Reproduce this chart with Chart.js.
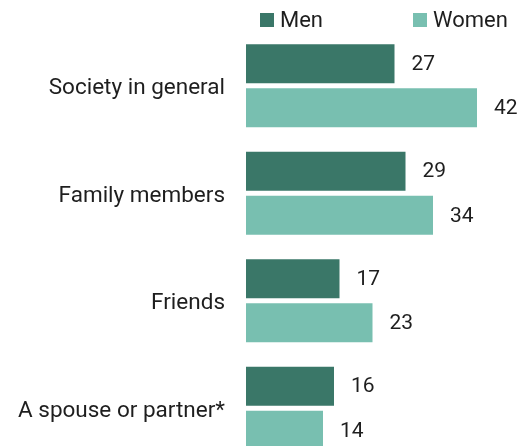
<!DOCTYPE html>
<html>
<head>
<meta charset="utf-8">
<script src="https://cdn.jsdelivr.net/npm/chart.js@4"></script>
<style>
  html, body { margin: 0; padding: 0; background: #fff; overflow: hidden; height: 446px; }
  #frame { position: relative; width: 523px; height: 446px; overflow: hidden; }
  canvas { display: block; position: absolute; left: 0; top: 0; }
</style>
</head>
<body>
<div id="frame"><canvas id="c" width="523" height="470"></canvas></div>
<script>
const categories = ["Society in general", "Family members", "Friends", "A spouse or partner*"];
const seriesNames = ["Men", "Women"];
const menValues = [27, 29, 17, 16];
const womenValues = [42, 34, 23, 14];
const seriesColors = ["#3a7768", "#78bfb0"];

const FONT = "Roboto, 'Liberation Sans', Arial, sans-serif";
const TEXT = "#1e1e1e";

// Numbers printed just past the end of each bar
const valueLabels = {
  id: "valueLabels",
  afterDatasetsDraw(chart) {
    const ctx = chart.ctx;
    ctx.save();
    ctx.font = "21px " + FONT;
    ctx.fillStyle = TEXT;
    ctx.textAlign = "left";
    ctx.textBaseline = "middle";
    chart.data.datasets.forEach((ds, i) => {
      chart.getDatasetMeta(i).data.forEach((bar, j) => {
        ctx.fillText(String(ds.data[j]), bar.x + 17, bar.y + 1);
      });
    });
    ctx.restore();
  }
};

// Legend row across the top: swatch + series name
const topLegend = {
  id: "topLegend",
  afterDraw(chart) {
    const ctx = chart.ctx;
    const starts = [260, 413];
    ctx.save();
    ctx.font = "22px " + FONT;
    ctx.textBaseline = "middle";
    ctx.textAlign = "left";
    chart.data.datasets.forEach((ds, i) => {
      const x = starts[i];
      ctx.fillStyle = ds.backgroundColor;
      ctx.fillRect(x, 13, 14, 14);
      ctx.fillStyle = TEXT;
      ctx.fillText(ds.label, x + 20, 21);
    });
    ctx.restore();
  }
};

new Chart(document.getElementById("c"), {
  type: "bar",
  data: {
    labels: categories,
    datasets: [
      { label: seriesNames[0], data: menValues, backgroundColor: seriesColors[0] },
      { label: seriesNames[1], data: womenValues, backgroundColor: seriesColors[1] }
    ]
  },
  options: {
    indexAxis: "y",
    responsive: false,
    animation: false,
    layout: { padding: { top: 32, right: 2, bottom: 8, left: 0 } },
    datasets: { bar: { categoryPercentage: 0.82, barPercentage: 0.886 } },
    plugins: { legend: { display: false }, tooltip: { enabled: false } },
    scales: {
      x: { display: false, min: 0, max: 50 },
      y: {
        grid: { display: false, drawTicks: false },
        border: { display: false },
        ticks: { color: TEXT, font: { family: FONT, size: 22.5 }, padding: 21, labelOffset: 3 },
        afterFit(scale) {
          scale.width = 246;
          // label gutter only; no extra room above/below the bars
          scale.paddingTop = 0;
          scale.paddingBottom = 0;
        }
      }
    }
  },
  plugins: [valueLabels, topLegend]
});
</script>
</body>
</html>
